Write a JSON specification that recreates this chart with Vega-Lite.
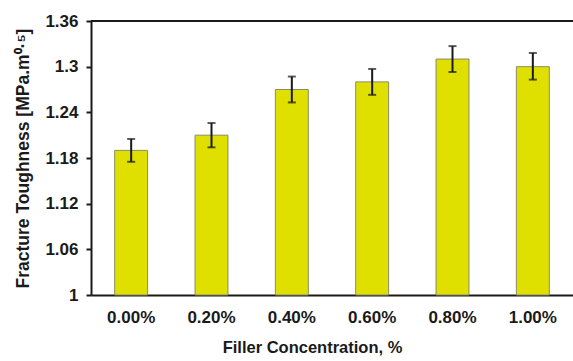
{
  "$schema": "https://vega.github.io/schema/vega-lite/v6.json",
  "width": 482,
  "height": 274,
  "autosize": {"type": "none"},
  "padding": {"left": 91, "top": 21, "right": 0, "bottom": 66},
  "background": "white",
  "config": {
    "view": {"stroke": null},
    "font": "Liberation Sans",
    "axis": {"labelFont": "Liberation Sans", "titleFont": "Liberation Sans", "labelFontWeight": "bold", "titleFontWeight": "bold", "labelColor": "#1a1a1a", "titleColor": "#1a1a1a"}
  },
  "data": {
    "values": [
      {"conc": "0.00%", "value": 1.19, "lo": 1.175, "hi": 1.205},
      {"conc": "0.20%", "value": 1.21, "lo": 1.194, "hi": 1.226},
      {"conc": "0.40%", "value": 1.27, "lo": 1.253, "hi": 1.287},
      {"conc": "0.60%", "value": 1.28, "lo": 1.263, "hi": 1.297},
      {"conc": "0.80%", "value": 1.31, "lo": 1.293, "hi": 1.327},
      {"conc": "1.00%", "value": 1.30, "lo": 1.283, "hi": 1.318}
    ]
  },
  "layer": [
    {
      "mark": {"type": "bar", "fill": "#e0e000", "stroke": "#8a8a6a", "strokeWidth": 1},
      "encoding": {
        "x": {
          "field": "conc",
          "type": "ordinal",
          "sort": null,
          "scale": {"paddingInner": 0.59, "paddingOuter": 0.295},
          "axis": {
            "title": "Filler Concentration, %",
            "labelAngle": 0,
            "labelFontSize": 17,
            "labelPadding": 14,
            "titleFontSize": 16.5,
            "titlePadding": 14,
            "titleX": 221,
            "ticks": false,
            "domainColor": "#1a1a1a",
            "domainWidth": 2
          }
        },
        "y": {
          "field": "value",
          "type": "quantitative",
          "scale": {"domain": [1, 1.36], "zero": false, "nice": false},
          "axis": {
            "title": "Fracture Toughness [MPa.m⁰·⁵]",
            "values": [1, 1.06, 1.12, 1.18, 1.24, 1.3, 1.36],
            "format": ".2~f",
            "grid": false,
            "labelFontSize": 17,
            "labelPadding": 8,
            "titleFontSize": 17.5,
            "titlePadding": 12,
            "tickSize": 5,
            "tickWidth": 2,
            "tickColor": "#1a1a1a",
            "domainColor": "#1a1a1a",
            "domainWidth": 2
          }
        },
        "y2": {"datum": 1}
      }
    },
    {
      "mark": {"type": "rule", "color": "#1a1a1a", "strokeWidth": 2},
      "encoding": {
        "x": {"field": "conc", "type": "ordinal", "sort": null},
        "y": {"field": "lo", "type": "quantitative"},
        "y2": {"field": "hi"}
      }
    },
    {
      "mark": {"type": "tick", "color": "#1a1a1a", "thickness": 2, "size": 8},
      "encoding": {
        "x": {"field": "conc", "type": "ordinal", "sort": null},
        "y": {"field": "hi", "type": "quantitative"}
      }
    },
    {
      "mark": {"type": "tick", "color": "#1a1a1a", "thickness": 2, "size": 8},
      "encoding": {
        "x": {"field": "conc", "type": "ordinal", "sort": null},
        "y": {"field": "lo", "type": "quantitative"}
      }
    },
    {
      "mark": {"type": "rule", "color": "#1a1a1a", "strokeWidth": 2},
      "encoding": {"y": {"datum": 1.36}}
    }
  ]
}
